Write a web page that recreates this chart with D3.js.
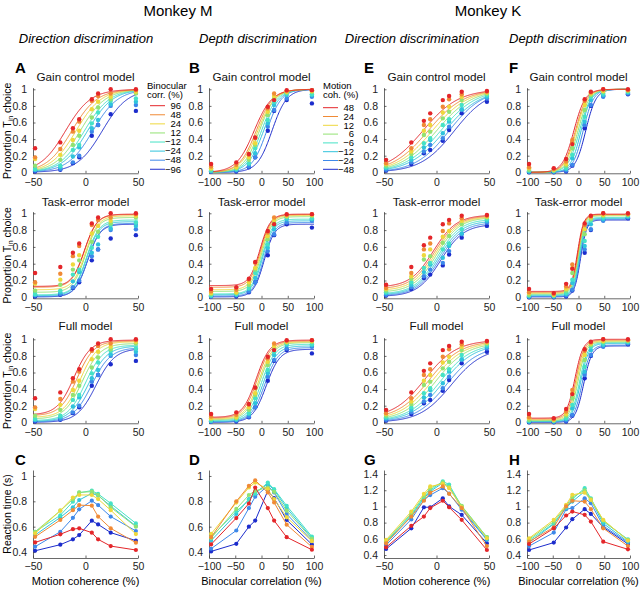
<!DOCTYPE html>
<html><head><meta charset="utf-8">
<script src="https://cdn.jsdelivr.net/npm/d3@7"></script>
<style>
body{margin:0;background:#fff;}
svg{display:block;font-family:"Liberation Sans",Arial,sans-serif;}
.tick text{font-size:10.5px;fill:#222;}
.domain{stroke:#444;stroke-width:0.8;}
.tick line{stroke:#444;stroke-width:0.8;}
</style></head>
<body>
<svg id="c" width="640" height="589"></svg>
<script>
// ---------- data ----------
const condBino = ['96','48','24','12','\u221212','\u221224','\u221248','\u221296'];
const condMotion = ['48','24','12','6','\u22126','\u221212','\u221224','\u221248'];
const colors = ['#e4262a','#f08a36','#eed83c','#92e272','#45e2c6','#30c3dc','#3d88ea','#1c2ccc'];
const cohLevels = [-48,-24,-12,-6,6,12,24,48];
const corrLevels = [-96,-48,-24,-12,12,24,48,96];
const psyTicks = [0,0.2,0.4,0.6,0.8,1];
const cohTicks = [-50,0,50];
const corrTicks = [-100,-50,0,50,100];
const rtTicksM = [0.4,0.6,0.8,1];
const rtTicksK = [0.4,0.6,0.8,1,1.2,1.4];

// proportion T_in choice, rows = conditions (legend order), cols = x levels
const psyM_dir = [
 [.29,.36,.53,.64,.88,.95,1.0,1.0],
 [.18,.28,.49,.61,.86,.92,.95,.99],
 [.16,.21,.39,.50,.76,.85,.91,.97],
 [.08,.15,.33,.44,.66,.78,.88,.95],
 [.04,.08,.27,.33,.59,.72,.86,.89],
 [.03,.06,.19,.30,.53,.63,.82,.85],
 [.02,.04,.12,.20,.49,.57,.80,.81],
 [.01,.03,.11,.18,.44,.57,.70,.74]];
const psyM_depth = [
 [.10,.12,.22,.42,.79,.87,.99,.99],
 [.07,.09,.21,.41,.77,.95,.98,.99],
 [.05,.06,.18,.35,.73,.92,.97,.98],
 [.04,.05,.15,.33,.69,.89,.96,.97],
 [.02,.04,.11,.29,.63,.85,.95,.94],
 [.02,.03,.10,.23,.59,.81,.93,.93],
 [.01,.02,.07,.18,.55,.75,.89,.91],
 [.01,.01,.06,.18,.50,.74,.87,.83]];
const psyK_dir = [
 [.15,.36,.62,.71,.87,.92,.97,.98],
 [.11,.29,.57,.64,.79,.88,.94,.97],
 [.10,.25,.50,.57,.72,.79,.91,.96],
 [.08,.22,.45,.49,.65,.73,.87,.95],
 [.06,.18,.35,.41,.57,.64,.81,.93],
 [.05,.15,.30,.39,.47,.61,.76,.91],
 [.03,.12,.25,.33,.41,.55,.75,.89],
 [.02,.10,.23,.27,.38,.51,.71,.85]];
const psyK_depth = [
 [.10,.05,.16,.34,.88,.97,1.0,1.0],
 [.06,.04,.13,.39,.86,.96,1.0,.99],
 [.05,.03,.10,.35,.81,.95,.98,.99],
 [.03,.02,.08,.29,.75,.93,.97,.98],
 [.02,.02,.05,.21,.67,.91,.95,.97],
 [.01,.01,.04,.17,.61,.87,.93,.96],
 [.01,.01,.02,.09,.57,.81,.91,.95],
 [.00,.00,.01,.08,.53,.80,.92,.94]];

// model fits: [bias, spread, lower asymptote, upper asymptote] per condition
const fitM_dir_gain = [[-19,12,0,1],[-13,12,0,1],[-9,12,0,1],[-5,12,0,1],[-1,12,0,1],[2,12,0,1],[7,12,0,1],[16,12,0,1]];
const fitM_dir_task = [[-1,6,.13,.99],[-1,6,.12,.985],[0,6,.09,.97],[0,6,.06,.95],[1,6,.03,.92],[1,6,.02,.90],[2,6,.01,.88],[2,6,.005,.87]];
const fitM_dir_full = [[-11,8,.09,.99],[-8,8,.08,.98],[-5,8,.06,.97],[-3,8.5,.04,.95],[0,8.5,.02,.93],[3,9,.01,.92],[6,9,.005,.90],[10,9,0,.89]];
const fitM_depth_gain = [[-14,17,0,1],[-10,16,0,1],[-7,16,0,1],[-4,15,0,1],[0,15,0,1],[4,15,0,1],[10,14,0,1],[20,14,0,1]];
const fitM_depth_task = [[-3,10,.14,.99],[-2,10,.12,.985],[-1,10,.09,.975],[0,10,.07,.96],[1,10,.04,.93],[2,10,.03,.91],[4,10,.015,.89],[5,10,.005,.87]];
const fitM_depth_full = [[-10,13,.06,.99],[-8,13,.05,.98],[-5,13,.04,.97],[-3,13,.03,.96],[0,13,.02,.94],[3,13,.01,.92],[6,13,.005,.90],[9,13,0,.88]];
const fitK_dir_gain = [[-13,17,0,1],[-8,17,0,1],[-4,17,0,1],[0,17,0,1],[4,17,0,1],[8,17,0,1],[12,16,0,1],[17,16,0,1]];
const fitK_dir_task = [[-3,11,.12,.98],[-2,11,.10,.97],[-1,11,.08,.96],[0,11,.06,.95],[1,11,.04,.93],[2,11,.03,.91],[3,11,.02,.89],[4,11,.01,.87]];
const fitK_dir_full = [[-11,15,.05,.99],[-7,15,.04,.98],[-4,15,.03,.97],[-1,15,.02,.96],[3,15,.015,.95],[6,15,.01,.94],[10,15,.005,.92],[14,15,0,.90]];
const fitK_depth_gain = [[-9,11,0,1],[-6,11,0,1],[-4,11,0,1],[-1,11,0,1],[2,11,0,1],[5,10,0,1],[9,10,0,1],[14,10,0,1]];
const fitK_depth_task = [[-2,6,.07,.99],[-1,6,.06,.985],[-1,6,.05,.98],[0,6,.04,.97],[1,6,.03,.95],[2,6,.02,.94],[3,6,.01,.93],[4,6,.005,.92]];
const fitK_depth_full = [[-7,8,.05,1],[-5,8,.04,.99],[-3,8,.03,.98],[-1,8,.02,.97],[2,8,.015,.96],[4,8,.01,.95],[7,8,.005,.93],[10,8,0,.92]];

// reaction time (s)
const rtM_dir = [
 [.476,.54,.58,.587,.553,.50,.447,.416],
 [.52,.653,.73,.77,.766,.68,.587,.474],
 [.547,.726,.83,.85,.85,.818,.73,.542],
 [.56,.726,.816,.87,.876,.85,.753,.60],
 [.56,.69,.797,.868,.884,.858,.784,.626],
 [.534,.673,.753,.81,.863,.845,.763,.605],
 [.442,.56,.67,.737,.805,.77,.68,.566],
 [.41,.458,.50,.534,.647,.618,.553,.49]];
const rtM_depth = [
 [.46,.668,.783,.909,.747,.648,.517,.418],
 [.517,.80,.922,.966,.87,.791,.616,.44],
 [.543,.79,.909,.948,.896,.817,.674,.486],
 [.51,.74,.85,.883,.909,.875,.726,.504],
 [.52,.72,.81,.86,.948,.896,.765,.522],
 [.49,.70,.817,.87,.935,.89,.747,.51],
 [.426,.57,.747,.836,.922,.87,.70,.49],
 [.405,.465,.60,.648,.883,.825,.653,.46]];
const rtK_dir = [
 [.495,.76,.875,.98,1.07,.99,.834,.462],
 [.545,.875,1.07,1.17,1.247,1.156,.98,.51],
 [.586,.937,1.156,1.247,1.28,1.226,.99,.607],
 [.565,.916,1.13,1.226,1.297,1.24,1.007,.62],
 [.578,.896,1.115,1.2,1.31,1.27,1.0,.62],
 [.557,.883,1.10,1.185,1.29,1.247,.98,.594],
 [.524,.84,1.08,1.14,1.226,1.16,.96,.586],
 [.474,.73,.99,.99,1.10,1.0,.896,.545]];
const rtK_depth = [
 [.536,.73,.888,.937,.896,.813,.565,.47],
 [.565,.743,1.0,1.07,1.06,.966,.73,.51],
 [.607,.834,1.02,1.144,1.17,1.08,.834,.578],
 [.594,.813,1.007,1.115,1.2,1.09,.826,.586],
 [.578,.79,.99,1.09,1.226,1.1,.813,.594],
 [.553,.784,.98,1.06,1.185,1.08,.79,.565],
 [.51,.677,.966,.98,1.10,1.04,.76,.553],
 [.462,.553,.74,.842,.966,.908,.743,.536]];

// ---------- layout ----------
const svg = d3.select('#c');
const cols = [
 {x0:33, x1:138, dom:[-50,50], ticks:cohTicks, levels:cohLevels, letterX:15},
 {x0:209, x1:314, dom:[-100,100], ticks:corrTicks, levels:corrLevels, letterX:189},
 {x0:384, x1:489, dom:[-50,50], ticks:cohTicks, levels:cohLevels, letterX:364},
 {x0:527, x1:630, dom:[-100,100], ticks:corrTicks, levels:corrLevels, letterX:509}];
const rows = [{y0:172.3, y1:89.3, title:'Gain control model', tY:81},
              {y0:297.3, y1:213.3, title:'Task-error model', tY:206},
              {y0:422.3, y1:339.3, title:'Full model', tY:330}];
const psyData = [psyM_dir, psyM_depth, psyK_dir, psyK_depth];
const fits = [[fitM_dir_gain, fitM_dir_task, fitM_dir_full],
              [fitM_depth_gain, fitM_depth_task, fitM_depth_full],
              [fitK_dir_gain, fitK_dir_task, fitK_dir_full],
              [fitK_depth_gain, fitK_depth_task, fitK_depth_full]];

function logistic(p, x){ return p[2] + (p[3]-p[2]) / (1 + Math.exp(-(x - p[0]) / p[1])); }

function axes(g, x, y, xt, yt, yFmt){
  g.append('g').attr('transform', `translate(0,${y.range()[0]})`)
    .call(d3.axisBottom(x).tickValues(xt).tickSizeInner(-2.5).tickSizeOuter(0).tickPadding(5).tickFormat(d3.format('d')));
  g.append('g').attr('transform', `translate(${x.range()[0]},0)`)
    .call(d3.axisLeft(y).tickValues(yt).tickSizeInner(-2.5).tickSizeOuter(0).tickPadding(6).tickFormat(yFmt));
}
const yFmt = d => (d===0||d===1)? String(d) : d3.format('.1f')(d);

// psychometric panels
cols.forEach((c, ci) => {
  const x = d3.scaleLinear().domain(c.dom).range([c.x0, c.x1]);
  rows.forEach((r, ri) => {
    const k = (r.y0 - r.y1);
    const y = d3.scaleLinear().domain([-0.012, 1.02]).range([r.y0 + 0.012*k, r.y1 - 0.02*k]);
    const g = svg.append('g');
    axes(g, x, y, c.ticks, psyTicks, yFmt);
    g.append('text').attr('x', (c.x0+c.x1)/2).attr('y', r.tY).attr('text-anchor','middle')
      .attr('font-size', 11.7).attr('fill','#111').text(r.title);
    const fit = fits[ci][ri];
    const xs = d3.range(c.dom[0], c.dom[1] + 0.01, (c.dom[1]-c.dom[0])/200);
    const line = d3.line().x(d => x(d[0])).y(d => y(d[1]));
    for (let i = 7; i >= 0; i--) {
      g.append('path').attr('d', line(xs.map(v => [v, logistic(fit[i], v)])))
        .attr('fill','none').attr('stroke', colors[i]).attr('stroke-width', 1);
    }
    const data = psyData[ci];
    for (let i = 7; i >= 0; i--) {
      g.selectAll(null).data(data[i]).enter().append('circle')
        .attr('cx', (d, j) => x(c.levels[j])).attr('cy', d => y(d)).attr('r', 2.2)
        .attr('fill', colors[i]);
    }
  });
});

// RT panels
const rtData = [rtM_dir, rtM_depth, rtK_dir, rtK_depth];
const rtLetters = ['C','D','G','H'];
cols.forEach((c, ci) => {
  const x = d3.scaleLinear().domain(c.dom).range([c.x0, c.x1]);
  const y = ci < 2 ? d3.scaleLinear().domain([0.353, 1.047]).range([558, 470])
                   : d3.scaleLinear().domain([0.363, 1.45]).range([558, 470]);
  const g = svg.append('g');
  axes(g, x, y, c.ticks, ci < 2 ? rtTicksM : rtTicksK, d => d===1 ? '1' : d3.format('.1f')(d));
  const line = d3.line().x((d, j) => x(c.levels[j])).y(d => y(d));
  const data = rtData[ci];
  for (let i = 7; i >= 0; i--) {
    g.append('path').attr('d', line(data[i])).attr('fill','none').attr('stroke', colors[i]).attr('stroke-width', 1);
    g.selectAll(null).data(data[i]).enter().append('circle')
      .attr('cx', (d, j) => x(c.levels[j])).attr('cy', d => y(d)).attr('r', 2.1).attr('fill', colors[i]);
  }
  svg.append('text').attr('x', c.letterX).attr('y', 465).attr('font-size', 15).attr('font-weight','bold').text(rtLetters[ci]);
  svg.append('text').attr('x', (c.x0+c.x1)/2).attr('y', 585).attr('text-anchor','middle').attr('font-size', 11)
    .text(ci % 2 === 0 ? 'Motion coherence (%)' : 'Binocular correlation (%)');
});

// panel letters top
['A','B','E','F'].forEach((L, i) => svg.append('text').attr('x', cols[i].letterX).attr('y', 73)
  .attr('font-size', 15).attr('font-weight','bold').text(L));

// headers
svg.append('text').attr('x',178).attr('y',16).attr('text-anchor','middle').attr('font-size',15).text('Monkey M');
svg.append('text').attr('x',488).attr('y',16).attr('text-anchor','middle').attr('font-size',15).text('Monkey K');
[['Direction discrimination',86],['Depth discrimination',258],['Direction discrimination',412],['Depth discrimination',568]]
 .forEach(t => svg.append('text').attr('x', t[1]).attr('y', 43).attr('text-anchor','middle')
   .attr('font-size', 13).attr('font-style','italic').text(t[0]));

// y labels
[130.8, 255.3, 380.8].forEach(cy => {
  const t = svg.append('text').attr('transform', `translate(11,${cy}) rotate(-90)`).attr('text-anchor','middle').attr('font-size',10.5);
  t.append('tspan').text('Proportion T');
  t.append('tspan').attr('font-size',7).attr('dy',2).text('in');
  t.append('tspan').attr('dy',-2).text(' choice');
});
svg.append('text').attr('transform','translate(11,514) rotate(-90)').attr('text-anchor','middle').attr('font-size',10.5).text('Reaction time (s)');

// legends
function legend(x0, lineX, labelX, yStart, step, title, labels){
  svg.append('text').attr('x', x0).attr('y', 89).attr('font-size', 9.5).text(title[0]);
  svg.append('text').attr('x', x0).attr('y', 98).attr('font-size', 9.5).text(title[1]);
  labels.forEach((lab, i) => {
    const yy = yStart + i*step;
    svg.append('line').attr('x1', lineX).attr('x2', lineX+15).attr('y1', yy).attr('y2', yy)
      .attr('stroke', colors[i]).attr('stroke-width', 1);
    svg.append('text').attr('x', labelX).attr('y', yy+3.3).attr('text-anchor','end').attr('font-size', 9.5).text(lab);
  });
}
legend(147, 150, 181, 105.7, 9.08, ['Binocular','corr. (%)'], condBino);
legend(323, 323, 354, 107.7, 8.8, ['Motion','coh. (%)'], condMotion);
</script>
</body></html>
